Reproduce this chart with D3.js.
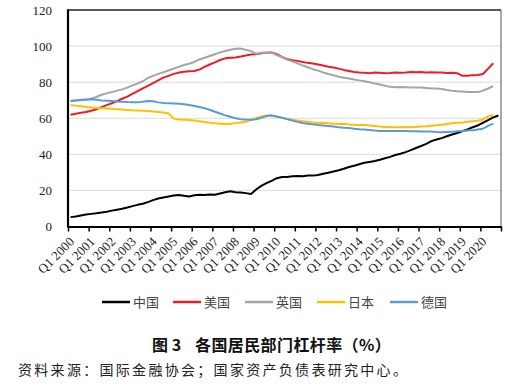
<!DOCTYPE html>
<html>
<head>
<meta charset="utf-8">
<script src="https://cdn.jsdelivr.net/npm/d3@7"></script>
<style>
    body { margin: 0; background: #fff; }
    svg { display: block; }
</style>
</head>
<body>
<svg id="chart" width="511" height="392"></svg>
<script>
// quarterly household leverage, Q1 2000 onwards (China has one more quarter)
const china = [
    5.2, 5.6, 6.1, 6.6,  7.0, 7.3, 7.7, 8.2,  8.8, 9.3, 9.8, 10.5,  11.3, 12.0, 12.6, 13.5,
    14.6, 15.5, 16.1, 16.6,  17.2, 17.5, 17.0, 16.6,  17.3, 17.6, 17.5, 17.7,  17.6, 18.3, 19.0, 19.5,
    19.0, 18.8, 18.5, 18.0,  20.5, 22.5, 24.0, 25.3,  26.8, 27.4, 27.5, 27.8,  28.0, 27.9, 28.3, 28.2,
    28.6, 29.2, 29.8, 30.5,  31.2, 32.0, 33.0, 33.7,  34.5, 35.3, 35.8, 36.3,  37.0, 37.8, 38.6, 39.6,
    40.3, 41.2, 42.3, 43.5,  44.6, 45.8, 47.3, 48.2,  49.0, 50.0, 51.0, 51.8,  52.8, 53.8, 55.0, 56.0,
    57.5, 59.0, 60.5, 61.5
];
const usa = [
    62.0, 62.5, 63.0, 63.5,  64.2, 65.0, 66.2, 67.3,  68.3, 69.5, 70.8, 72.0,  73.5, 75.0, 76.6, 78.0,
    79.5, 81.0, 82.5, 83.5,  84.6, 85.3, 85.8, 86.0,  86.2, 87.0, 88.5, 89.8,  91.0, 92.3, 93.2, 93.5,
    93.7, 94.2, 94.8, 95.3,  95.5, 96.0, 96.3, 96.5,  95.5, 94.0, 92.8, 92.2,  91.8, 91.2, 90.7, 90.3,
    89.8, 89.2, 88.5, 88.1,  87.5, 86.8, 86.2, 85.6,  85.3, 85.2, 85.0, 85.3,  85.2, 85.0, 85.1, 85.3,
    85.2, 85.4, 85.7, 85.5,  85.6, 85.3, 85.5, 85.4,  85.3, 85.1, 85.2, 85.0,  83.5, 83.6, 83.9, 84.0,
    84.5, 87.5, 90.5
];
const uk = [
    69.6, 69.8, 70.0, 70.3,  70.8, 71.8, 73.0, 73.8,  74.5, 75.3, 76.0, 77.0,  78.2, 79.2, 80.5, 82.3,
    83.5, 84.6, 85.5, 86.5,  87.5, 88.5, 89.5, 90.2,  91.2, 92.6, 93.5, 94.5,  95.5, 96.5, 97.3, 98.0,
    98.5, 98.6, 98.0, 97.2,  95.8, 96.3, 96.5, 96.3,  95.0, 93.8, 92.5, 91.5,  90.4, 89.3, 88.3, 87.2,
    86.4, 85.4, 84.5, 83.8,  83.0, 82.5, 82.0, 81.5,  81.0, 80.5, 80.0, 79.3,  78.7, 78.0, 77.4, 77.2,
    77.3, 77.2, 77.0, 77.1,  77.0, 76.8, 76.5, 76.5,  76.2, 75.7, 75.3, 75.0,  74.8, 74.6, 74.6, 74.5,
    75.3, 76.5, 77.8
];
const japan = [
    67.4, 67.0, 66.6, 66.3,  66.0, 65.8, 65.6, 65.4,  65.2, 65.0, 64.8, 64.6,  64.4, 64.3, 64.2, 64.0,
    63.8, 63.5, 63.2, 62.8,  59.8, 59.3, 59.2, 59.0,  58.7, 58.3, 57.9, 57.5,  57.2, 57.0, 56.8, 56.9,
    57.3, 57.6, 58.0, 59.0,  60.0, 61.0, 61.5, 61.3,  60.8, 60.2, 59.6, 59.2,  58.8, 58.4, 58.0, 57.6,
    57.4, 57.5, 57.2, 57.0,  56.8, 56.9, 56.6, 56.4,  56.2, 56.3, 56.0, 55.7,  55.4, 55.2, 55.0, 55.0,
    55.0, 55.1, 55.0, 55.2,  55.4, 55.6, 55.9, 56.1,  56.4, 56.8, 57.2, 57.5,  57.7, 58.0, 58.3, 58.6,
    59.3, 61.0, 61.8
];
const germany = [
    69.6, 69.9, 70.2, 70.4,  70.5, 70.2, 69.9, 69.7,  69.5, 69.3, 69.2, 69.0,  68.9, 68.8, 69.2, 69.6,
    69.4, 68.8, 68.4, 68.3,  68.2, 68.0, 67.7, 67.3,  66.8, 66.2, 65.5, 64.7,  63.6, 62.6, 61.6, 60.8,
    60.0, 59.5, 59.3, 59.2,  59.4, 60.2, 61.2, 61.6,  61.0, 60.3, 59.6, 58.8,  58.0, 57.4, 57.0, 56.6,
    56.2, 56.0, 55.7, 55.4,  55.0, 54.8, 54.6, 54.2,  53.9, 53.7, 53.5, 53.2,  53.0, 53.0, 52.9, 52.9,
    53.0, 52.9, 52.8, 52.8,  52.7, 52.6, 52.6, 52.4,  52.3, 52.4, 52.5, 52.8,  53.0, 53.2, 53.4, 53.8,
    54.2, 55.8, 57.0
];

const seriesNames = ['中国', '美国', '英国', '日本', '德国'];
const seriesColors = ['#000000', '#ee1c25', '#a5a5a5', '#ffc000', '#5b9bd5'];
const tickLabels = ['Q1 2000', 'Q1 2001', 'Q1 2002', 'Q1 2003', 'Q1 2004', 'Q1 2005', 'Q1 2006',
    'Q1 2007', 'Q1 2008', 'Q1 2009', 'Q1 2010', 'Q1 2011', 'Q1 2012', 'Q1 2013', 'Q1 2014',
    'Q1 2015', 'Q1 2016', 'Q1 2017', 'Q1 2018', 'Q1 2019', 'Q1 2020'];
const yTicks = [0, 20, 40, 60, 80, 100, 120];

const titleNum = '图 3';
const titleText = '各国居民部门杠杆率（%）';
const source = '资料来源：国际金融协会；国家资产负债表研究中心。';

// quarters shown on the axis: Q1 2000 .. Q4 2020
const nQuarters = 84;

let plot = { left: 68, right: 501, top: 10, bottom: 226.5 };

let svg = d3.select('#chart');

let x = d3.scaleLinear().domain([0, nQuarters]).range([plot.left, plot.right]);
let y = d3.scaleLinear().domain([0, 120]).range([plot.bottom, plot.top]);

// gridlines
svg.append('g')
    .selectAll('line')
    .data(yTicks.filter(t => t > 0 && t < 120))
    .enter()
    .append('line')
    .attr('x1', plot.left).attr('x2', plot.right)
    .attr('y1', d => y(d)).attr('y2', d => y(d))
    .attr('stroke', '#dcdcdc')
    .attr('stroke-width', 1);

// top + right frame
svg.append('line')
    .attr('x1', plot.left).attr('x2', plot.right)
    .attr('y1', plot.top).attr('y2', plot.top)
    .attr('stroke', '#222').attr('stroke-width', 1.5);
svg.append('line')
    .attr('x1', plot.right).attr('x2', plot.right)
    .attr('y1', plot.top).attr('y2', plot.bottom)
    .attr('stroke', '#555').attr('stroke-width', 1);

// y axis labels
let yAxis = svg.append('g')
    .attr('transform', 'translate(' + plot.left + ',0)')
    .call(d3.axisLeft(y).tickValues(yTicks).tickSize(0).tickPadding(16));
yAxis.select('.domain').remove();
yAxis.selectAll('text')
    .attr('font-family', '"Liberation Serif", "Times New Roman", serif')
    .attr('font-size', 13)
    .attr('fill', '#222');

// the series lines
let allSeries = [china, usa, uk, japan, germany];
let line = d3.line()
    .x((d, i) => x(i + 0.5))
    .y(d => y(d));

svg.append('g')
    .selectAll('path')
    .data(allSeries)
    .enter()
    .append('path')
    .attr('d', d => line(d))
    .attr('fill', 'none')
    .attr('stroke', (d, i) => seriesColors[i])
    .attr('stroke-width', 2)
    .attr('stroke-linejoin', 'round');

// x axis: ticks every 4 quarters, labels rotated
let xTickPos = d3.range(0, nQuarters + 1, 4);
let xAxis = svg.append('g')
    .attr('transform', 'translate(0,' + plot.bottom + ')')
    .call(d3.axisBottom(x).tickValues(xTickPos).tickSize(5).tickSizeOuter(0).tickFormat(''));
xAxis.select('.domain').attr('stroke', '#000').attr('stroke-width', 2.2);
xAxis.selectAll('.tick line').attr('stroke', '#000').attr('stroke-width', 1.5);

svg.append('g')
    .selectAll('text')
    .data(tickLabels)
    .enter()
    .append('text')
    .attr('transform', (d, i) => 'translate(' + (x(i * 4) + 7) + ',' + (plot.bottom + 16) + ') rotate(-45)')
    .attr('text-anchor', 'end')
    .attr('font-family', '"Liberation Serif", "Times New Roman", serif')
    .attr('font-size', 13)
    .attr('fill', '#222')
    .text(d => d);

// left axis line, drawn last so it sits on top
svg.append('line')
    .attr('x1', plot.left).attr('x2', plot.left)
    .attr('y1', plot.top - 0.75).attr('y2', plot.bottom + 1)
    .attr('stroke', '#000').attr('stroke-width', 2.2);

// legend
let legendX = [102, 173, 245, 317, 390];
let legend = svg.append('g')
    .selectAll('g')
    .data(seriesNames)
    .enter()
    .append('g')
    .attr('transform', (d, i) => 'translate(' + legendX[i] + ',302)');
legend.append('line')
    .attr('x1', 0).attr('x2', 28)
    .attr('stroke', (d, i) => seriesColors[i])
    .attr('stroke-width', 2.5);
legend.append('text')
    .attr('x', 31)
    .attr('dy', '0.36em')
    .attr('font-family', '"Noto Sans CJK SC", sans-serif')
    .attr('font-size', 13)
    .attr('fill', '#444')
    .text(d => d);

// caption + source
let cap = svg.append('text')
    .attr('y', 345)
    .attr('dy', '0.36em')
    .attr('font-family', '"Noto Sans CJK SC", sans-serif')
    .attr('font-weight', 'bold')
    .attr('font-size', 16)
    .attr('fill', '#111');
cap.append('tspan').attr('x', 152).text(titleNum);
cap.append('tspan').attr('x', 195).attr('letter-spacing', 0.4).text(titleText);

svg.append('text')
    .attr('x', 18).attr('y', 370)
    .attr('dy', '0.36em')
    .attr('font-family', '"Noto Sans CJK SC", sans-serif')
    .attr('font-size', 14)
    .attr('letter-spacing', 2.3)
    .attr('fill', '#222')
    .text(source);
</script>
</body>
</html>
